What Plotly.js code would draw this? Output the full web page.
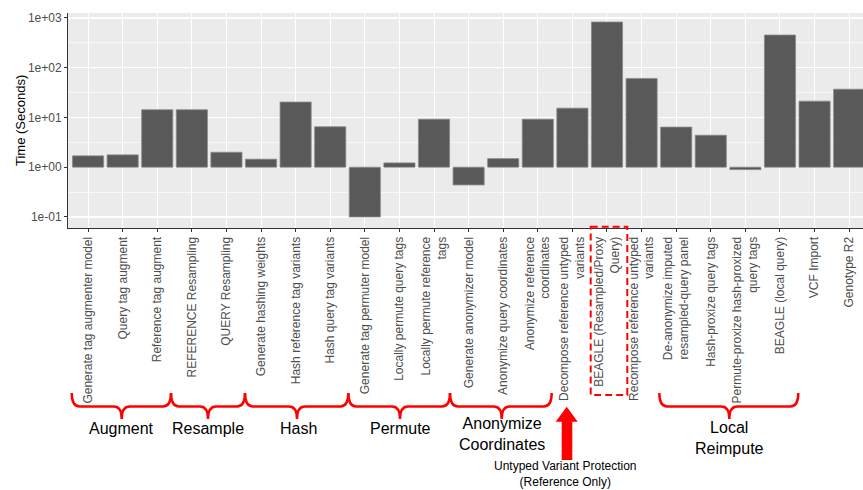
<!DOCTYPE html>
<html>
<head>
<meta charset="utf-8">
<script src="https://cdn.plot.ly/plotly-3.0.1.min.js"></script>
<style>html,body{margin:0;padding:0;background:#fff;}#chart{width:863px;height:490px;}</style>
</head>
<body>
<div id="chart"></div>
<script>
// ---- data ----
const categories = [
  "Generate tag augmenter model",
  "Query tag augment",
  "Reference tag augment",
  "REFERENCE Resampling",
  "QUERY Resampling",
  "Generate hashing weights",
  "Hash reference tag variants",
  "Hash query tag variants",
  "Generate tag permuter model",
  "Locally permute query tags",
  "Locally permute reference<br>tags",
  "Generate anonymizer model",
  "Anonymize query coordinates",
  "Anonymize reference<br>coordinates",
  "Decompose reference untyped<br>variants",
  "BEAGLE (Resampled/Proxy<br>Query)",
  "Recompose reference untyped<br>variants",
  "De-anonymize imputed<br>resampled-query panel",
  "Hash-proxize query tags",
  "Permute-proxize hash-proxized<br>query tags",
  "BEAGLE (local query)",
  "VCF Import",
  "Genotype R2"
];
const timeSeconds = [1.69, 1.77, 14.3, 14.3, 2.0, 1.45, 20.4, 6.5, 0.1, 1.22, 9.25, 0.44, 1.49, 9.25, 15.4, 830, 61, 6.4, 4.4, 0.895, 454, 21.3, 37];
const yTickVals = [0.1, 1, 10, 100, 1000];
const yTickText = ["1e-01", "1e+00", "1e+01", "1e+02", "1e+03"];
const yMinorVals = [0.316, 3.16, 31.6, 316];
const yTitle = "Time (Seconds)";
const groupLabels = ["Augment", "Resample", "Hash", "Permute", "Anonymize<br>Coordinates", "Local<br>Reimpute"];
const noteText = "Untyped Variant Protection<br>(Reference Only)";

// ---- layout helpers (pixel -> paper) ----
const L = 68, R = 863, T = 13, B = 228;
const X = p => (p - L) / (R - L);
const Y = p => (B - p) / (B - T);
const red = "#ff0000";
const FONT = "Liberation Sans, Arial, sans-serif";

function brace(x0, x1, xc, yt, ym, yb) {
  const r = 8;
  const pt = (a, b) => X(a) + "," + Y(b);
  return "M" + pt(x0, yt) + " Q" + pt(x0, ym) + " " + pt(x0 + r, ym) +
    " L" + pt(xc - r, ym) + " Q" + pt(xc, ym) + " " + pt(xc, yb) +
    " Q" + pt(xc, ym) + " " + pt(xc + r, ym) +
    " L" + pt(x1 - r, ym) + " Q" + pt(x1, ym) + " " + pt(x1, yt);
}
const braceDefs = [
  [71.7, 171, 121.7], [171, 245, 208], [245, 348.3, 297],
  [348.3, 450, 400], [450, 551.7, 501.7], [659.3, 798.3, 729.3]
];
const shapes = braceDefs.map(d => ({
  type: "path", xref: "paper", yref: "paper", layer: "above",
  path: brace(d[0], d[1], d[2], 393, 406.5, 419),
  line: {color: red, width: 2.5}
}));
shapes.push({
  type: "rect", xref: "paper", yref: "paper", layer: "above",
  x0: X(590.7), x1: X(627.3), y0: Y(226.7), y1: Y(395),
  line: {color: red, width: 2, dash: "7px,4px"}
});
const arrowPts = [[566.7, 406.7], [555.7, 421.7], [561.7, 421.7], [561.7, 460], [572.3, 460], [572.3, 421.7], [577.7, 421.7]];
shapes.push({
  type: "path", xref: "paper", yref: "paper", layer: "above",
  path: "M" + arrowPts.map(p => X(p[0]) + "," + Y(p[1])).join(" L") + " Z",
  fillcolor: red, line: {width: 0}
});

const groupPos = [[121.5, 428], [208, 428], [298, 428], [400, 428], [502, 434], [729, 438]];
const annotations = groupLabels.map((t, i) => ({
  text: t, xref: "paper", yref: "paper", x: X(groupPos[i][0]), y: Y(groupPos[i][1]),
  xanchor: "center", yanchor: "middle", showarrow: false,
  font: {family: FONT, size: 16, color: "#000"}
}));
annotations.push({
  text: noteText, xref: "paper", yref: "paper",
  x: X(565), y: Y(474), xanchor: "center", yanchor: "middle", showarrow: false,
  font: {family: FONT, size: 12, color: "#000"}
});
annotations.push({
  text: yTitle, xref: "paper", yref: "paper",
  x: X(20.5), y: Y(120.5), xanchor: "center", yanchor: "middle", showarrow: false,
  textangle: -90,
  font: {family: FONT, size: 13, color: "#000"}
});

const trace = {
  type: "bar",
  x: categories,
  y: timeSeconds.map(v => v - 1),
  base: 1,
  width: 0.9,
  marker: {color: "#595959", line: {color: "#8a8a8a", width: 0.8}},
  hoverinfo: "skip"
};

const layout = {
  width: 863, height: 490,
  margin: {l: L, r: 0, t: T, b: 490 - B},
  paper_bgcolor: "#ffffff",
  plot_bgcolor: "#ebebeb",
  showlegend: false,
  font: {family: FONT},
  xaxis: {
    type: "category", range: [-0.58, 22.4],
    tickangle: -90, ticks: "outside", ticklen: 3, tickcolor: "#333", tickwidth: 1,
    showline: true, linecolor: "#333", linewidth: 1,
    showgrid: true, gridcolor: "#ffffff", gridwidth: 1,
    tickfont: {family: FONT, size: 12, color: "#4d4d4d"},
    automargin: false, fixedrange: true
  },
  yaxis: {
    type: "log", range: [-1.222, 3.10],
    tickmode: "array", tickvals: yTickVals, ticktext: yTickText,
    ticks: "outside", ticklen: 3, tickcolor: "#333", tickwidth: 1,
    showline: true, linecolor: "#333", linewidth: 1,
    showgrid: true, gridcolor: "#ffffff", gridwidth: 1.1,
    zeroline: false,
    minor: {tickmode: "array", tickvals: yMinorVals, showgrid: true, gridcolor: "#ffffff", gridwidth: 0.6, ticks: ""},
    tickfont: {family: FONT, size: 12, color: "#4d4d4d"},
    automargin: false, fixedrange: true
  },
  shapes: shapes,
  annotations: annotations
};

Plotly.newPlot("chart", [trace], layout, {staticPlot: true, displayModeBar: false});
</script>
</body>
</html>
